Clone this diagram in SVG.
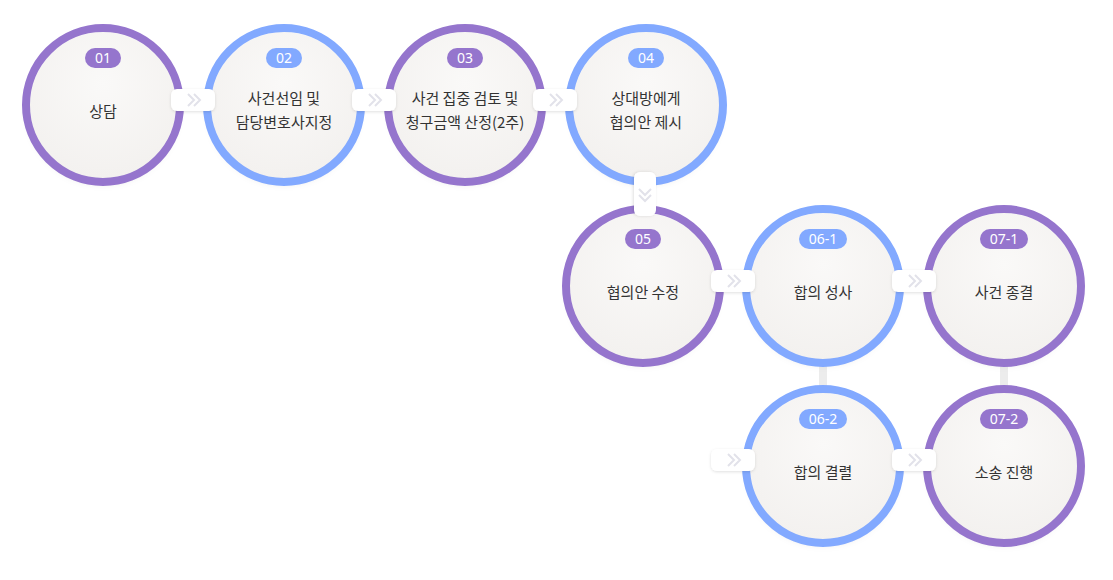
<svg xmlns="http://www.w3.org/2000/svg" width="1113" height="580" viewBox="0 0 1113 580">
<defs>
<radialGradient id="face" cx="50%" cy="35%" r="65%"><stop offset="0" stop-color="#faf9f8"/><stop offset="1" stop-color="#f3f1ef"/></radialGradient>
<filter id="sh" x="-20%" y="-20%" width="140%" height="150%"><feDropShadow dx="0" dy="4" stdDeviation="4" flood-color="#000" flood-opacity="0.18"/></filter>
<filter id="ps" x="-30%" y="-50%" width="160%" height="200%"><feDropShadow dx="0" dy="1" stdDeviation="1.5" flood-color="#000" flood-opacity="0.12"/></filter>
<g id="pill"><rect x="-22" y="-11" width="44" height="22" rx="6" fill="#fff" filter="url(#ps)"/><path d="M-5-6l6 6-6 6M1-6l6 6-6 6" fill="none" stroke="#e2e2ea" stroke-width="2"/></g>
</defs>
<style>
.p{stroke:#9575cd}.b{stroke:#82a9ff}
.ring{fill:none;stroke-width:8}
.pf{fill:#9575cd}.bf{fill:#82a9ff}
.t{font-family:"Noto Sans CJK KR","Noto Sans",sans-serif;font-size:15px;fill:#333;text-anchor:middle}
.n{font-family:"Noto Sans","Liberation Sans",sans-serif;font-size:14px;fill:#fff;text-anchor:middle}
</style>
<g id="bars"><rect x="819" y="366" width="8" height="20" fill="#ececec"/><rect x="1000" y="366" width="8" height="20" fill="#ececec"/></g>
<g id="n01"><circle cx="103" cy="105" r="73" fill="url(#face)" filter="url(#sh)"/><circle cx="103" cy="105" r="77" class="ring p"/><rect x="85" y="48" width="36" height="20" rx="10" class="pf"/><text x="103" y="63" class="n">01</text><text x="103" y="117" class="t">상담</text></g>
<g id="n02"><circle cx="284" cy="105" r="73" fill="url(#face)" filter="url(#sh)"/><circle cx="284" cy="105" r="77" class="ring b"/><rect x="266" y="48" width="36" height="20" rx="10" class="bf"/><text x="284" y="63" class="n">02</text><text x="284" y="104" class="t">사건선임 및</text><text x="284" y="128" class="t">담당변호사지정</text></g>
<g id="n03"><circle cx="465" cy="105" r="73" fill="url(#face)" filter="url(#sh)"/><circle cx="465" cy="105" r="77" class="ring p"/><rect x="447" y="48" width="36" height="20" rx="10" class="pf"/><text x="465" y="63" class="n">03</text><text x="465" y="104" class="t">사건 집중 검토 및</text><text x="465" y="128" class="t">청구금액 산정(2주)</text></g>
<g id="n04"><circle cx="646" cy="105" r="73" fill="url(#face)" filter="url(#sh)"/><circle cx="646" cy="105" r="77" class="ring b"/><rect x="628" y="48" width="36" height="20" rx="10" class="bf"/><text x="646" y="63" class="n">04</text><text x="646" y="104" class="t">상대방에게</text><text x="646" y="128" class="t">협의안 제시</text></g>
<g id="n05"><circle cx="643" cy="286" r="73" fill="url(#face)" filter="url(#sh)"/><circle cx="643" cy="286" r="77" class="ring p"/><rect x="625" y="229" width="36" height="20" rx="10" class="pf"/><text x="643" y="244" class="n">05</text><text x="643" y="298" class="t">협의안 수정</text></g>
<g id="n061"><circle cx="823" cy="286" r="73" fill="url(#face)" filter="url(#sh)"/><circle cx="823" cy="286" r="77" class="ring b"/><rect x="799" y="229" width="48" height="20" rx="10" class="bf"/><text x="823" y="244" class="n">06-1</text><text x="823" y="298" class="t">합의 성사</text></g>
<g id="n071"><circle cx="1004" cy="286" r="73" fill="url(#face)" filter="url(#sh)"/><circle cx="1004" cy="286" r="77" class="ring p"/><rect x="980" y="229" width="48" height="20" rx="10" class="pf"/><text x="1004" y="244" class="n">07-1</text><text x="1004" y="298" class="t">사건 종결</text></g>
<g id="n062"><circle cx="823" cy="466" r="73" fill="url(#face)" filter="url(#sh)"/><circle cx="823" cy="466" r="77" class="ring b"/><rect x="799" y="409" width="48" height="20" rx="10" class="bf"/><text x="823" y="424" class="n">06-2</text><text x="823" y="478" class="t">합의 결렬</text></g>
<g id="n072"><circle cx="1004" cy="466" r="73" fill="url(#face)" filter="url(#sh)"/><circle cx="1004" cy="466" r="77" class="ring p"/><rect x="980" y="409" width="48" height="20" rx="10" class="pf"/><text x="1004" y="424" class="n">07-2</text><text x="1004" y="478" class="t">소송 진행</text></g>
<g id="connectors">
<use href="#pill" x="193" y="100"/>
<use href="#pill" x="374" y="100"/>
<use href="#pill" x="555" y="100"/>
<use href="#pill" transform="translate(645 194) rotate(90)"/>
<use href="#pill" x="733" y="281"/>
<use href="#pill" x="914" y="281"/>
<use href="#pill" x="733" y="460"/>
<use href="#pill" x="914" y="460"/>
</g>
</svg>
